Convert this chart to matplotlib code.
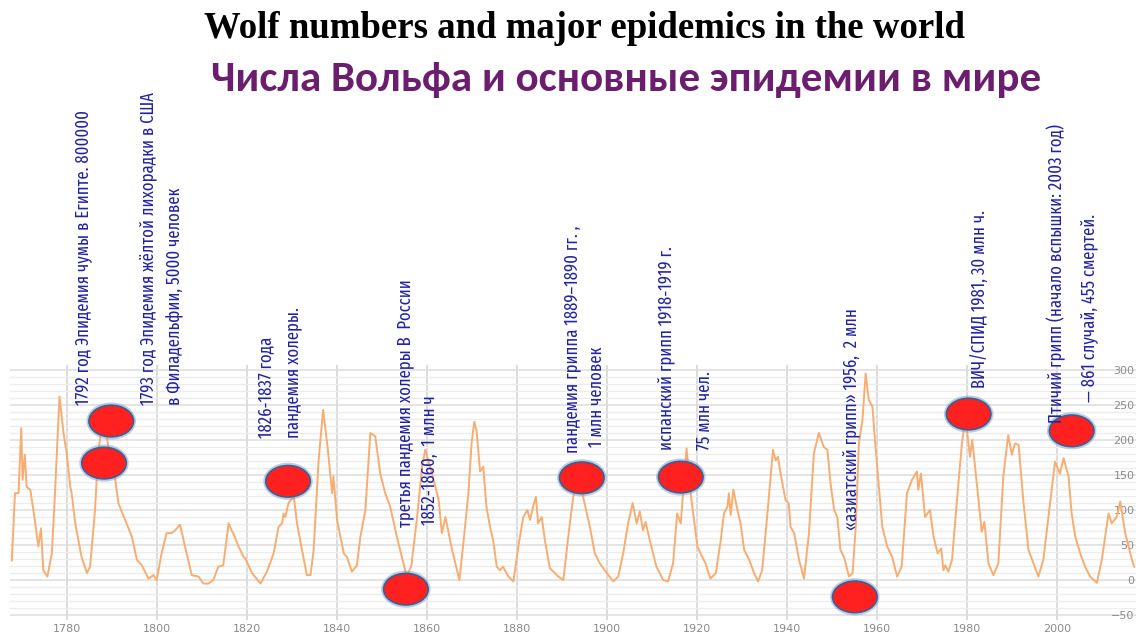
import numpy as np
import matplotlib
matplotlib.use('Agg')
import matplotlib.pyplot as plt
from matplotlib.patches import Ellipse

# Числа Вольфа (сглаженные)
years = [1767.7, 1768.4, 1769.2, 1769.8, 1770.1, 1770.6, 1771.0, 1771.8, 1772.5, 1773.6,
         1774.2, 1774.7, 1775.6, 1776.6, 1777.3, 1778.3, 1779.2, 1779.9, 1780.7, 1781.0,
         1781.8, 1783.2, 1784.4, 1785.1, 1786.2, 1786.9, 1787.4, 1788.1, 1788.8, 1789.6,
         1790.7, 1791.4, 1792.1, 1793.2, 1794.4, 1795.5, 1796.6, 1798.1, 1799.2, 1799.9,
         1801.0, 1802.1, 1803.2, 1804.0, 1805.1, 1806.2, 1807.7, 1809.2, 1810.3, 1811.4,
         1812.5, 1813.6, 1814.7, 1815.9, 1816.7, 1817.0, 1818.1, 1819.2, 1819.6, 1821.1,
         1823.0, 1824.4, 1825.9, 1827.0, 1827.8, 1828.1, 1828.5, 1829.2, 1830.4, 1831.1,
         1832.2, 1833.3, 1834.1, 1834.8, 1835.9, 1836.9, 1837.9, 1838.9, 1839.2, 1840.0,
         1841.5, 1842.2, 1843.3, 1844.4, 1845.2, 1846.3, 1847.4, 1848.5, 1849.6, 1850.7,
         1851.8, 1853.3, 1854.4, 1855.5, 1856.5, 1857.8, 1858.9, 1859.6, 1861.1, 1862.6,
         1863.3, 1864.1, 1865.5, 1867.2, 1868.0, 1869.2, 1869.9, 1870.5, 1871.0, 1871.8,
         1872.5, 1873.2, 1874.0, 1874.7, 1875.5, 1876.2, 1876.9, 1878.1, 1879.2, 1880.3,
         1881.4, 1882.3, 1882.9, 1883.6, 1884.2, 1884.7, 1885.5, 1886.2, 1887.3, 1888.4,
         1889.2, 1890.3, 1891.4, 1892.5, 1893.6, 1894.7, 1896.2, 1897.3, 1898.4, 1899.5,
         1901.4, 1902.5, 1903.6, 1904.7, 1905.7, 1906.6, 1907.3, 1908.0, 1908.6, 1909.5,
         1911.0, 1912.5, 1913.6, 1914.7, 1915.6, 1916.4, 1917.0, 1917.7, 1918.6, 1920.1,
         1921.2, 1921.9, 1923.0, 1924.2, 1925.3, 1926.0, 1926.8, 1927.1, 1927.5, 1928.1,
         1929.0, 1929.7, 1930.5, 1931.6, 1932.7, 1933.6, 1934.5, 1935.6, 1936.9, 1937.5,
         1938.0, 1938.6, 1939.7, 1940.4, 1940.8, 1941.6, 1942.7, 1943.8, 1944.9, 1946.0,
         1947.1, 1948.2, 1949.0, 1949.7, 1950.5, 1951.2, 1951.9, 1952.7, 1953.8, 1954.6,
         1955.3, 1956.0, 1956.8, 1957.5, 1958.2, 1959.0, 1959.7, 1960.5, 1961.2, 1962.3,
         1963.4, 1964.5, 1965.5, 1966.7, 1967.8, 1968.9, 1969.2, 1969.8, 1970.7, 1971.8,
         1972.6, 1973.5, 1974.3, 1974.8, 1975.2, 1975.9, 1976.7, 1977.8, 1978.9, 1979.7,
         1980.7, 1981.2, 1982.6, 1983.3, 1983.9, 1984.8, 1985.9, 1987.0, 1988.1, 1989.2,
         1990.0, 1990.7, 1991.5, 1992.6, 1993.7, 1994.8, 1995.9, 1997.0, 1998.5, 1999.6,
         2000.7, 2001.5, 2002.6, 2003.3, 2004.1, 2005.2, 2006.3, 2007.4, 2008.9, 2010.0,
         2011.5, 2012.2, 2013.3, 2014.1, 2015.2, 2016.7, 2017.2]
wolf = [28, 124, 124, 217, 143, 179, 133, 129, 100, 48,
        74, 14, 5, 38, 124, 262, 210, 181, 133, 124,
        81, 33, 10, 19, 100, 181, 205, 235, 205, 175,
        143, 110, 98, 81, 62, 29, 21, 2, 7, 0,
        38, 67, 67, 71, 79, 48, 7, 5, -5, -5,
        0, 19, 21, 81, 69, 66, 48, 33, 31, 10,
        -5, 12, 38, 76, 81, 95, 90, 110, 119, 81,
        43, 7, 7, 43, 171, 243, 190, 124, 148, 86,
        38, 33, 12, 21, 62, 100, 210, 205, 152, 124,
        105, 62, 33, 5, 20, 90, 162, 186, 152, 114,
        67, 90, 45, 0, 48, 124, 195, 226, 214, 155,
        162, 105, 76, 57, 19, 14, 19, 5, -2, 48,
        90, 100, 86, 105, 119, 81, 90, 57, 17, 10,
        5, 0, 62, 119, 145, 119, 76, 38, 24, 14,
        -2, 5, 38, 81, 110, 81, 98, 71, 83, 57,
        19, 0, -2, 24, 95, 81, 130, 188, 124, 48,
        33, 24, 2, 10, 57, 95, 105, 124, 93, 129,
        100, 81, 43, 29, 10, -2, 14, 90, 186, 171,
        176, 152, 114, 110, 76, 67, 29, 2, 67, 181,
        210, 190, 186, 138, 100, 90, 43, 33, 5, 10,
        76, 195, 229, 295, 257, 248, 190, 129, 76, 48,
        33, 5, 19, 124, 143, 155, 129, 152, 90, 100,
        62, 38, 45, 14, 21, 12, 29, 114, 195, 232,
        176, 200, 114, 69, 83, 24, 7, 24, 148, 207,
        179, 195, 193, 110, 43, 24, 5, 29, 110, 169,
        152, 174, 148, 95, 62, 38, 19, 5, -4, 29,
        95, 81, 90, 112, 67, 29, 19]

# эпидемии: метки на графике
event_years = [1789.8, 1788.2, 1829.1, 1855.3, 1894.4, 1916.4, 1955.1, 1980.4, 2003.3]
event_values = [227, 167, 141, -13, 146, 147, -24, 237, 213]

notes = ['1792 год Эпидемия чумы в Египте. 800000',
         '1793 год Эпидемия жёлтой лихорадки в США',
         'в Филадельфии, 5000 человек',
         '1826-1837 года',
         'пандемия холеры.',
         'третья пандемия холеры В  России',
         '1852-1860,  1 млн ч',
         'пандемия гриппа 1889–1890 гг. ,',
         '1 млн человек',
         'испанский грипп 1918-1919 г.',
         '75 млн чел.',
         '«азиатский грипп» 1956,  2 млн',
         'ВИЧ/СПИД 1981, 30 млн ч.',
         'Птичий грипп (начало вспышки: 2003 год)',
         '— 861 случай, 455 смертей.']
note_x = [1783.6, 1798.0, 1804.0, 1824.2, 1830.2, 1855.1, 1860.7, 1892.2, 1897.8,
          1913.1, 1921.8, 1954.2, 1982.9, 1999.8, 2007.3]
note_y = [250, 250, 250, 203, 203, 76, 79, 181, 190, 186, 186, 71, 274, 224, 254]

year_ticks = [1780, 1800, 1820, 1840, 1860, 1880, 1900, 1920, 1940, 1960, 1980, 2000]
value_ticks = [-50, 0, 50, 100, 150, 200, 250, 300]

fig = plt.figure(figsize=(11.36, 6.37), dpi=100)
ax = fig.add_axes([10 / 1136, 1 - 620 / 637, 1126 / 1136, 255 / 637])
ax.set_xlim(1767.3, 2017.6)
ax.set_ylim(-57, 307)

for s in ax.spines.values():
    s.set_visible(False)

ax.set_yticks(np.arange(-50, 301, 10), minor=True)
ax.set_yticks(value_ticks)
ax.set_xticks(year_ticks)
ax.grid(which='minor', axis='y', color='#ececec', lw=1.0)
ax.grid(which='major', axis='y', color='#dcdcdc', lw=1.1)
ax.grid(which='major', axis='x', color='#d6d6d6', lw=1.2)
ax.set_axisbelow(True)

ax.yaxis.tick_right()
ax.tick_params(axis='both', which='both', length=0, labelsize=8, labelcolor='#8a8a8a')
ax.tick_params(axis='y', pad=-1)
for lab in ax.get_yticklabels():
    lab.set_ha('right')
ax.tick_params(axis='x', pad=3)

ax.plot(years, wolf, color='#f6ad72', lw=1.4, zorder=2)

# красные овалы
for ex, ey in zip(event_years, event_values):
    ax.add_patch(Ellipse((ex, ey), 11.0, 53, facecolor='#8aa4c8', edgecolor='none',
                         alpha=0.55, zorder=3, clip_on=False))
    ax.add_patch(Ellipse((ex, ey), 9.9, 45, facecolor='#ff2020', edgecolor='#3c5f94',
                         lw=1.2, zorder=4, clip_on=False))

for t, nx, ny in zip(notes, note_x, note_y):
    ax.text(nx, ny, t, rotation=90, ha='center', va='bottom', color='#2323a0',
            fontsize=13, family=['Fira Sans Extra Condensed', 'DejaVu Sans'],
            clip_on=False, zorder=5)

fig.text(584 / 1136, 1 - 28 / 637, 'Wolf numbers and major epidemics in the world',
         ha='center', va='center', fontsize=26.5, fontweight='bold',
         family=['Liberation Serif', 'DejaVu Serif'], color='black')
fig.text(626 / 1136, 1 - 79 / 637, 'Числа Вольфа и основные эпидемии в мире',
         ha='center', va='center', fontsize=31, fontweight='bold',
         family=['Carlito', 'DejaVu Sans'], color='#6b1d6e')

fig.savefig('out.png', dpi=100)
